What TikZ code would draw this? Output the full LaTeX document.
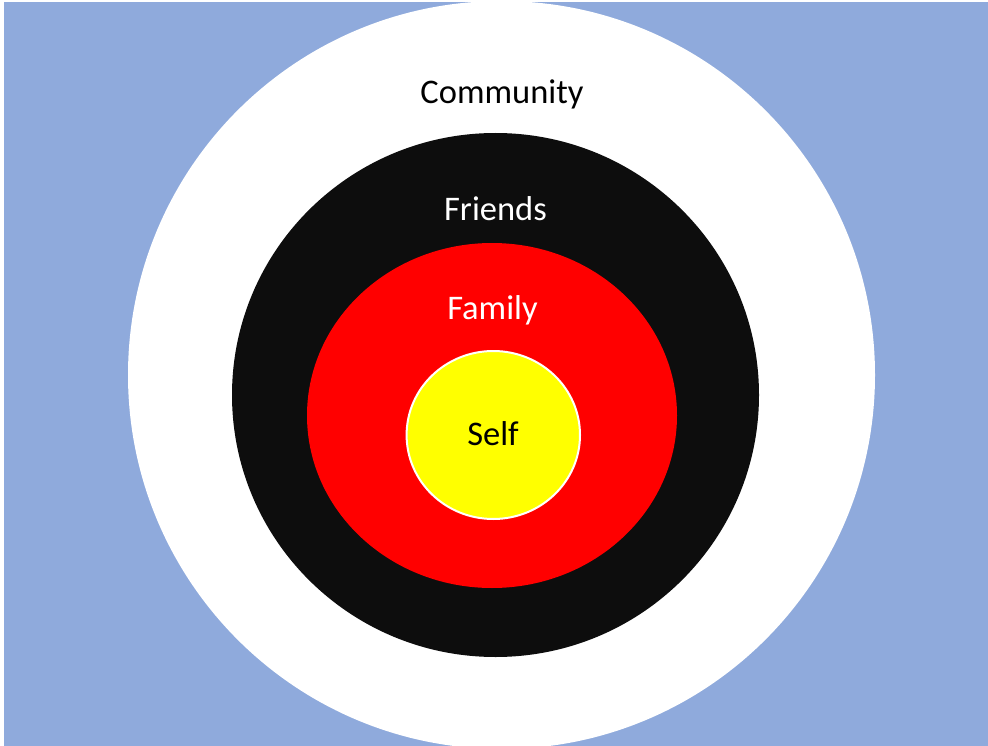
\documentclass[tikz,border=0pt]{standalone}
\usepackage{fontspec}
\setmainfont{Carlito}
\usepackage{tikz}

\definecolor{skyblue}{HTML}{8FAADC}
\definecolor{nearblack}{HTML}{0D0D0D}
\definecolor{brightred}{HTML}{FF0000}
\definecolor{brightyellow}{HTML}{FFFF00}

\begin{document}
\begin{tikzpicture}[x=1pt,y=-1pt]
  \tikzset{ring/.style = {fill=#1}}
  \tikzset{label/.style = {anchor=base,inner sep=0pt,font=\fontsize{34.5}{41}\selectfont}}

  \useasboundingbox (0,0) rectangle (988,746);
  \clip (0,0) rectangle (988,746);
  \fill[white] (0,0) rectangle (988,746);
  \fill[skyblue] (4,2) rectangle (988,746);

	\fill[ring=white] (501.5,375) ellipse (373.5 and 374);
	\fill[ring=nearblack] (495.5,395) ellipse (263.5 and 262);
	\fill[ring=brightred] (492,415.5) ellipse (185 and 172.5);
	\draw[ring=brightyellow,draw=white,line width=2pt] (493.3,435) ellipse (86.7 and 84);

	\node[label] (community) at (502,104) {Community};
	\node[label,text=white] (friends) at (495.5,221) {Friends};
	\node[label,text=white] (family) at (492.5,319) {Family};
	\node[label] (self) at (493,445) {Self};
\end{tikzpicture}
\end{document}
